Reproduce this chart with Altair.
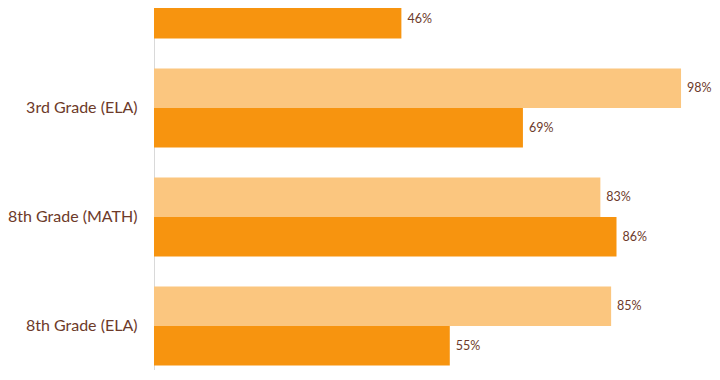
import altair as alt
import pandas as pd

categories = ["3rd Grade (Math)", "3rd Grade (ELA)", "8th Grade (MATH)", "8th Grade (ELA)"]
series_names = ["Prior Year", "Current Year"]
prior_values = [0.93, 0.98, 0.83, 0.85]
current_values = [0.46, 0.686, 0.86, 0.55]
series_colors = ["#FBC67F", "#F7940F"]

rows = []
for c, p, q in zip(categories, prior_values, current_values):
    rows.append({"grade": c, "series": series_names[0], "value": p})
    rows.append({"grade": c, "series": series_names[1], "value": q})
df = pd.DataFrame(rows)

font = "Lato"
text_color = "#6d3a2a"

y_enc = alt.Y(
    "grade:N",
    sort=categories,
    title=None,
    scale=alt.Scale(range=[-63.5, 372.5], paddingInner=0.275, paddingOuter=0.1375),
    axis=alt.Axis(
        labelFont=font,
        labelFontSize=16,
        labelColor=text_color,
        labelPadding=17,
        ticks=False,
        grid=False,
        domainColor="#d9d9d9",
        domainWidth=1,
    ),
)
x_enc = alt.X(
    "value:Q",
    axis=None,
    scale=alt.Scale(domain=[0, 1.0134], nice=False, zero=True),
)
yoff = alt.YOffset("series:N", sort=series_names)

base = alt.Chart(df).encode(y=y_enc, x=x_enc, yOffset=yoff)

bars = base.mark_bar(clip=True).encode(
    color=alt.Color(
        "series:N",
        sort=series_names,
        scale=alt.Scale(domain=series_names, range=series_colors),
        legend=None,
    )
)

labels = base.mark_text(
    align="left", baseline="middle", dx=6, font=font, fontSize=12.5, color=text_color
).encode(text=alt.Text("value:Q", format=".0%"))

chart = (
    alt.layer(bars, labels)
    .properties(
        width=545,
        height=362,
        autosize=alt.AutoSizeParams(type="none"),
        padding={"left": 146, "top": 0, "right": 13, "bottom": 0},
    )
    .configure_view(strokeWidth=0)
)

chart.save("out.html", embed_options={"renderer": "svg", "actions": False})
